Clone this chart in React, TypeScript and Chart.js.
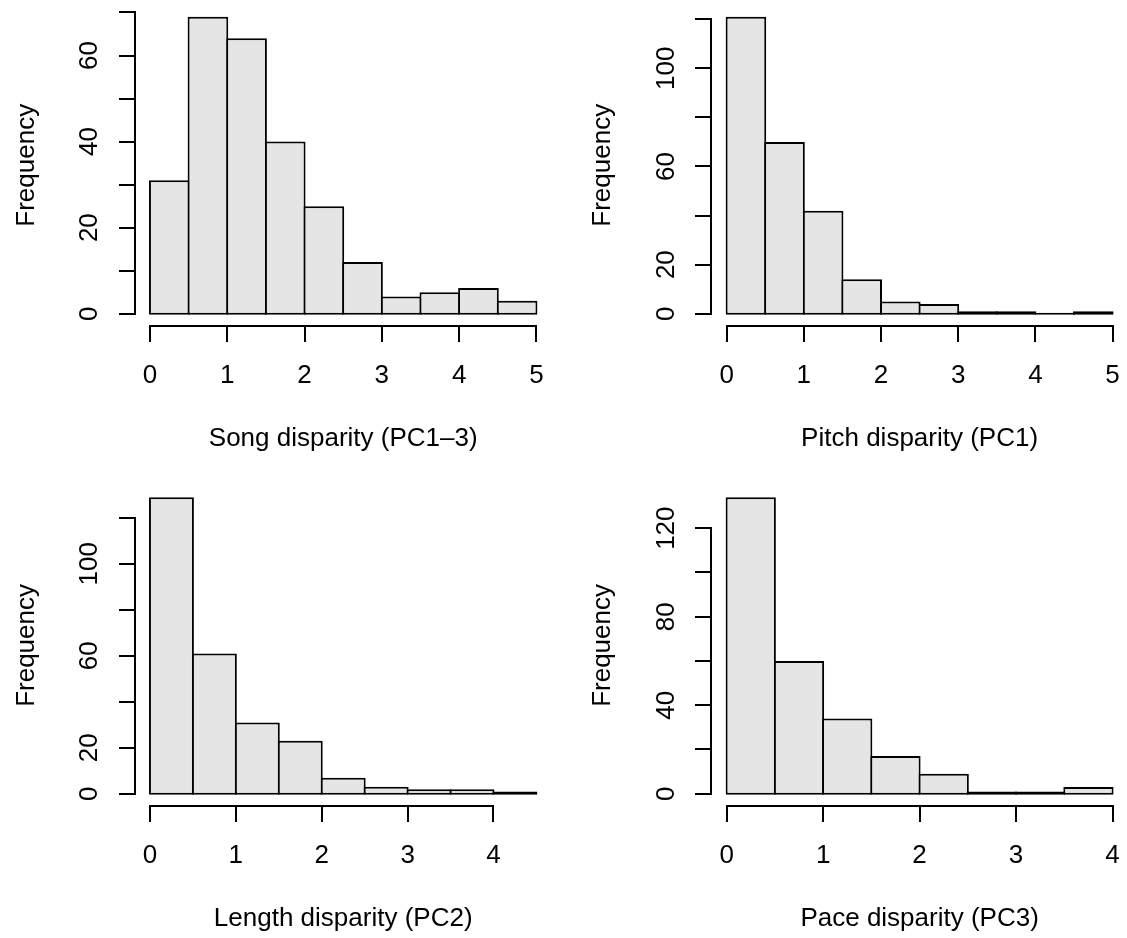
import React, { useEffect, useRef } from "react";
import { Chart, registerables } from "chart.js";

Chart.register(...registerables);

// ---------- data ----------
const songBreaks = [0, 0.5, 1, 1.5, 2, 2.5, 3, 3.5, 4, 4.5, 5];
const songCounts = [31, 69, 64, 40, 25, 12, 4, 5, 6, 3];
const songXTicks = [0, 1, 2, 3, 4, 5];
const songYTicks = [0, 10, 20, 30, 40, 50, 60, 70];
const songYLabels = [0, 20, 40, 60];

const pitchBreaks = [0, 0.5, 1, 1.5, 2, 2.5, 3, 3.5, 4, 4.5, 5];
const pitchCounts = [121, 70, 42, 14, 5, 4, 1, 1, 0, 1];
const pitchXTicks = [0, 1, 2, 3, 4, 5];
const pitchYTicks = [0, 20, 40, 60, 80, 100, 120];
const pitchYLabels = [0, 20, 60, 100];

const lengthBreaks = [0, 0.5, 1, 1.5, 2, 2.5, 3, 3.5, 4, 4.5];
const lengthCounts = [129, 61, 31, 23, 7, 3, 2, 2, 1];
const lengthXTicks = [0, 1, 2, 3, 4];
const lengthYTicks = [0, 20, 40, 60, 80, 100, 120];
const lengthYLabels = [0, 20, 60, 100];

const paceBreaks = [0, 0.5, 1, 1.5, 2, 2.5, 3, 3.5, 4];
const paceCounts = [134, 60, 34, 17, 9, 1, 1, 3];
const paceXTicks = [0, 1, 2, 3, 4];
const paceYTicks = [0, 20, 40, 60, 80, 100, 120];
const paceYLabels = [0, 40, 80, 120];

const titles = [
  "Song disparity (PC1\u20133)",
  "Pitch disparity (PC1)",
  "Length disparity (PC2)",
  "Pace disparity (PC3)",
];
const yTitle = "Frequency";

// ---------- layout / style ----------
const FONT = '26px "Liberation Sans", Arial, Helvetica, sans-serif';
const FILL = "#e5e5e5";
const CANVAS_W = 564;
const CANVAS_H = 469;

type Panel = {
  breaks: number[];
  counts: number[];
  xTicks: number[];
  yTicks: number[];
  yLabels: number[];
  title: string;
  left: number;
  top: number;
  pad: { left: number; right: number; top: number; bottom: number };
};

const panels: Panel[] = [
  {
    breaks: songBreaks, counts: songCounts, xTicks: songXTicks, yTicks: songYTicks, yLabels: songYLabels,
    title: titles[0], left: 0, top: 0,
    pad: { left: 134.5, right: 12.1, top: 4.9, bottom: 143.4 },
  },
  {
    breaks: pitchBreaks, counts: pitchCounts, xTicks: pitchXTicks, yTicks: pitchYTicks, yLabels: pitchYLabels,
    title: titles[1], left: 564, top: 0,
    pad: { left: 147.2, right: 0, top: 4.9, bottom: 143.4 },
  },
  {
    breaks: lengthBreaks, counts: lengthCounts, xTicks: lengthXTicks, yTicks: lengthYTicks, yLabels: lengthYLabels,
    title: titles[2], left: 0, top: 469,
    pad: { left: 134.5, right: 12.1, top: 16.3, bottom: 132.4 },
  },
  {
    breaks: paceBreaks, counts: paceCounts, xTicks: paceXTicks, yTicks: paceYTicks, yLabels: paceYLabels,
    title: titles[3], left: 564, top: 469,
    pad: { left: 147.2, right: 0, top: 16.3, bottom: 132.4 },
  },
];

function HistPanel({ p }: { p: Panel }) {
  const ref = useRef<HTMLCanvasElement | null>(null);

  useEffect(() => {
    if (!ref.current) return;
    const xMin0 = p.breaks[0];
    const xMax0 = p.breaks[p.breaks.length - 1];
    const xExt = (xMax0 - xMin0) * 0.04;
    const yMax0 = Math.max(...p.counts);
    const yExt = yMax0 * 0.04;
    const xMin = xMin0 - xExt;
    const xMax = xMax0 + xExt;
    const yMin = -yExt;
    const yMax = yMax0 + yExt;

    const plotW = CANVAS_W - p.pad.left - p.pad.right;
    const plotH = CANVAS_H - p.pad.top - p.pad.bottom;
    const binW = p.breaks[1] - p.breaks[0];
    const binPx = (binW * plotW) / (xMax - xMin);
    const barPct = 1 + 2 / binPx;
    // one pixel below zero, so the inset bottom border is centred on the baseline
    const basePx = plotH / (yMax - yMin);
    const baseVal = -1 / basePx;

    const data = p.counts.map((c, i) => ({
      x: (p.breaks[i] + p.breaks[i + 1]) / 2,
      y: c,
    }));

    const axesPlugin = {
      id: "rAxes" + p.title,
      afterDraw(chart: any) {
        const ctx = chart.ctx as CanvasRenderingContext2D;
        const xs = chart.scales.x;
        const ys = chart.scales.y;
        const area = chart.chartArea;
        ctx.save();
        ctx.strokeStyle = "#000";
        ctx.lineWidth = 2;
        ctx.lineCap = "butt";

        // y axis
        const ax = Math.round(area.left);
        ctx.beginPath();
        ctx.moveTo(ax, Math.round(ys.getPixelForValue(p.yTicks[0])) + 1);
        ctx.lineTo(ax, Math.round(ys.getPixelForValue(p.yTicks[p.yTicks.length - 1])) - 1);
        for (const t of p.yTicks) {
          const py = Math.round(ys.getPixelForValue(t));
          ctx.moveTo(ax + 1, py);
          ctx.lineTo(ax - 16, py);
        }
        ctx.stroke();

        // x axis
        const ay = Math.round(area.bottom);
        ctx.beginPath();
        ctx.moveTo(Math.round(xs.getPixelForValue(p.xTicks[0])) - 1, ay);
        ctx.lineTo(Math.round(xs.getPixelForValue(p.xTicks[p.xTicks.length - 1])) + 1, ay);
        for (const t of p.xTicks) {
          const px = Math.round(xs.getPixelForValue(t));
          ctx.moveTo(px, ay);
          ctx.lineTo(px, ay + 16);
        }
        ctx.stroke();

        // text
        ctx.fillStyle = "#000";
        ctx.font = FONT;
        ctx.textAlign = "center";
        ctx.textBaseline = "alphabetic";
        for (const t of p.xTicks) {
          ctx.fillText(String(t), xs.getPixelForValue(t), area.bottom + 57.7);
        }
        ctx.fillText(p.title, (area.left + area.right) / 2, area.bottom + 120.5);

        for (const t of p.yLabels) {
          ctx.save();
          ctx.translate(area.left - 37.4, ys.getPixelForValue(t));
          ctx.rotate(-Math.PI / 2);
          ctx.fillText(String(t), 0, 0);
          ctx.restore();
        }
        ctx.save();
        ctx.translate(area.left - 101, (area.top + area.bottom) / 2);
        ctx.rotate(-Math.PI / 2);
        ctx.fillText(yTitle, 0, 0);
        ctx.restore();

        ctx.restore();
      },
    };

    const chart = new Chart(ref.current, {
      type: "bar",
      data: {
        datasets: [
          {
            data: data as any,
            backgroundColor: FILL,
            borderColor: "#000",
            borderWidth: 2,
            borderSkipped: false,
            barPercentage: barPct,
            categoryPercentage: 1,
            minBarLength: 2,
            inflateAmount: 0,
            base: baseVal,
          } as any,
        ],
      },
      options: {
        responsive: false,
        animation: false,
        events: [],
        layout: { padding: p.pad },
        plugins: {
          legend: { display: false },
          tooltip: { enabled: false },
          title: { display: false },
        },
        scales: {
          x: { type: "linear", min: xMin, max: xMax, offset: false, display: false },
          y: { type: "linear", min: yMin, max: yMax, display: false },
        },
      } as any,
      plugins: [axesPlugin],
    });
    return () => chart.destroy();
  }, [p]);

  return (
    <canvas
      ref={ref}
      width={CANVAS_W}
      height={CANVAS_H}
      style={{
        position: "absolute",
        left: p.left,
        top: p.top,
        width: CANVAS_W,
        height: CANVAS_H,
        display: "block",
      }}
    />
  );
}

export default function App() {
  return (
    <div
      style={{
        position: "fixed",
        left: 0,
        top: 0,
        width: 1127,
        height: 938,
        overflow: "hidden",
        background: "#ffffff",
      }}
    >
      {panels.map((p, i) => (
        <HistPanel key={i} p={p} />
      ))}
    </div>
  );
}
